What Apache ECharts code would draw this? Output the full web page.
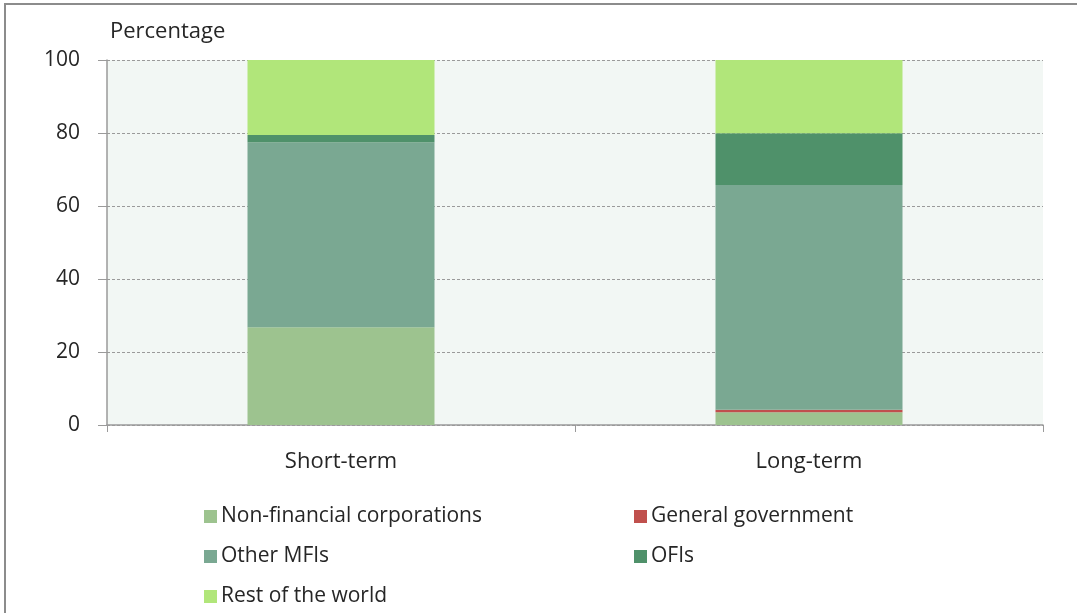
<!DOCTYPE html>
<html>
<head>
<meta charset="utf-8">
<script src="https://cdn.jsdelivr.net/npm/echarts@6/dist/echarts.min.js"></script>
<style>
  html, body { margin: 0; padding: 0; background: #ffffff; }
  #chart { width: 1077px; height: 613px; }
</style>
</head>
<body>
<div id="chart"></div>
<script>
// Holders of debt securities by maturity (percentages)
const categories = ['Short-term', 'Long-term'];
const nonFinancial = [26.8, 3.5];
const generalGov = [0, 0.7];
const otherMFIs = [50.65, 61.55];
const ofis = [2.0, 14.15];
const restOfWorld = [20.55, 20.1];
const yTicks = [0, 20, 40, 60, 80, 100];

const FONT = 'Open Sans';
const TEXT = '#262626';

const seriesDefs = [
  { name: 'Non-financial corporations', data: nonFinancial, color: '#9dc38f' },
  { name: 'General government', data: generalGov, color: '#c0504d' },
  { name: 'Other MFIs', data: otherMFIs, color: '#7aa892' },
  { name: 'OFIs', data: ofis, color: '#4f916a' },
  { name: 'Rest of the world', data: restOfWorld, color: '#b1e67a' }
];

// legend layout: two columns, three rows
const legendPos = [
  { left: 199, top: 501 },
  { left: 629, top: 501 },
  { left: 199, top: 541 },
  { left: 629, top: 541 },
  { left: 199, top: 581 }
];

const chart = echarts.init(document.getElementById('chart'));
chart.setOption({
  animation: false,
  backgroundColor: '#ffffff',
  graphic: [{
    type: 'rect',
    shape: { x: 5, y: 4, width: 1200, height: 700 },
    style: { fill: 'none', stroke: '#8c8c8c', lineWidth: 2 },
    silent: true
  }],
  title: {
    text: 'Percentage',
    left: 110, top: 21, padding: 0,
    textStyle: { fontFamily: FONT, fontSize: 22, fontWeight: 'normal', color: TEXT }
  },
  legend: seriesDefs.map((s, i) => ({
    data: [s.name],
    left: legendPos[i].left, top: legendPos[i].top,
    itemWidth: 13, itemHeight: 13, itemGap: 0,
    icon: 'rect',
    textStyle: { fontFamily: FONT, fontSize: 21, color: TEXT, padding: [0, 0, 0, -1] }
  })),
  grid: {
    left: 107, right: 34, top: 60, bottom: 188,
    show: true, backgroundColor: '#f2f7f4', borderWidth: 0
  },
  xAxis: {
    type: 'category',
    data: categories,
    axisLine: { lineStyle: { color: '#9a9a9a', width: 1.5 } },
    axisTick: { show: true, alignWithLabel: false, length: 7, lineStyle: { color: '#9a9a9a' } },
    axisLabel: { fontFamily: FONT, fontSize: 22, color: TEXT, margin: 26 }
  },
  yAxis: {
    type: 'value',
    min: yTicks[0], max: yTicks[yTicks.length - 1], interval: 20,
    axisLine: { show: true, lineStyle: { color: '#9a9a9a', width: 1.5 } },
    axisTick: { show: true, length: 9, lineStyle: { color: '#9a9a9a' } },
    axisLabel: { fontFamily: FONT, fontSize: 21, color: TEXT, margin: 27 },
    splitLine: { show: true, lineStyle: { color: '#9a9a9a', type: [3, 2], width: 1 } }
  },
  series: seriesDefs.map(s => ({
    name: s.name,
    type: 'bar',
    stack: 'total',
    barWidth: 187,
    data: s.data,
    itemStyle: { color: s.color },
    emphasis: { disabled: true }
  }))
});
</script>
</body>
</html>
